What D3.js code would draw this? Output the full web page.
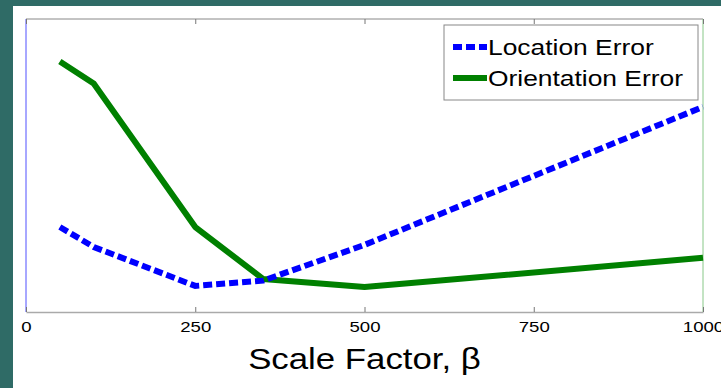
<!DOCTYPE html>
<html>
<head>
<meta charset="utf-8">
<script src="https://cdn.jsdelivr.net/npm/d3@7"></script>
<style>
  body { margin: 0; background: #2f6b66; }
  svg { display: block; }
</style>
</head>
<body>
<div id="chart"></div>
<script>
const scaleFactors = [50, 100, 250, 350, 500, 1000];
const locationError = [0.29, 0.222, 0.089, 0.107, 0.229, 0.70];
const orientationError = [0.855, 0.78, 0.29, 0.113, 0.085, 0.185];
const xTicks = [0, 250, 500, 750, 1000];
const seriesNames = ["Location Error", "Orientation Error"];

const W = 721, H = 388;
const margin = { top: 19, right: 18, bottom: 76, left: 26 };
const width = W - margin.left - margin.right,
  height = H - margin.top - margin.bottom;
const FONT = "Liberation Sans, Arial, sans-serif";
const STRETCH = 1.2; // the original text is a bit wide

const root = d3.select("#chart").append("svg")
  .attr("width", W).attr("height", H);

// white panel on the teal slide
root.append("rect").attr("x", 13).attr("y", 6)
  .attr("width", W - 13).attr("height", H - 6).attr("fill", "#fff");

const svg = root.append("g")
  .attr("transform", "translate(" + margin.left + "," + margin.top + ")");

const x = d3.scaleLinear().domain([0, 1000]).range([0, width]);
const y = d3.scaleLinear().domain([0, 1]).range([height, 0]);

// frame
svg.append("line").attr("x1", 0).attr("x2", width).attr("y1", 0).attr("y2", 0)
  .attr("stroke", "#888");
svg.append("line").attr("x1", 0).attr("x2", 0).attr("y1", 0).attr("y2", height)
  .attr("stroke", "#5050ff");
svg.append("line").attr("x1", width).attr("x2", width).attr("y1", 0).attr("y2", height)
  .attr("stroke", "#88c888");

// bottom axis, ticks pointing inward
const xAxis = svg.append("g")
  .attr("transform", "translate(0," + height + ")")
  .call(d3.axisBottom(x).tickValues(xTicks).tickFormat(d3.format("d"))
    .tickSizeInner(-5).tickSizeOuter(0).tickPadding(9));
xAxis.select(".domain").attr("stroke", "#aaa").attr("stroke-width", 1.5);
xAxis.selectAll(".tick line").attr("stroke", "#777");
xAxis.selectAll(".tick text")
  .attr("font-family", FONT)
  .attr("font-size", 15.5).attr("fill", "#000")
  .attr("transform", "scale(" + STRETCH + ",1)");

// top ticks
const topAxis = svg.append("g")
  .call(d3.axisTop(x).tickValues(xTicks).tickSizeInner(-5).tickSizeOuter(0)
    .tickFormat(""));
topAxis.select(".domain").remove();
topAxis.selectAll(".tick line").attr("stroke", "#777");

svg.append("text")
  .attr("transform", "translate(" + (width / 2) + "," + (height + 57) + ") scale(" + STRETCH + ",1)")
  .attr("text-anchor", "middle")
  .attr("font-family", FONT)
  .attr("font-size", 29)
  .text("Scale Factor, \u03B2");

const line = d3.line()
  .x(function (d) { return x(d[0]); })
  .y(function (d) { return y(d[1]); });

svg.append("path")
  .datum(d3.zip(scaleFactors, orientationError))
  .attr("d", line).attr("fill", "none")
  .attr("stroke", "#008000").attr("stroke-width", 6)
  .attr("stroke-linejoin", "round");

svg.append("path")
  .datum(d3.zip(scaleFactors, locationError))
  .attr("d", line).attr("fill", "none")
  .attr("stroke", "#0000ff").attr("stroke-width", 6)
  .attr("stroke-dasharray", "9,4");

// legend
const lg = svg.append("g").attr("transform", "translate(418,6)");
lg.append("rect").attr("width", 254).attr("height", 75)
  .attr("fill", "#fff").attr("stroke", "#888");
const styles = [
  { color: "#0000ff", dash: "9,4" },
  { color: "#008000", dash: null }
];
seriesNames.forEach(function (name, i) {
  const yy = 22 + i * 31;
  lg.append("line").attr("x1", 9).attr("x2", 43).attr("y1", yy).attr("y2", yy)
    .attr("stroke", styles[i].color).attr("stroke-width", 6)
    .attr("stroke-dasharray", styles[i].dash);
  lg.append("text")
    .attr("transform", "translate(44," + (yy + 8) + ") scale(" + STRETCH + ",1)")
    .attr("font-family", FONT)
    .attr("font-size", 22)
    .text(name);
});
</script>
</body>
</html>
